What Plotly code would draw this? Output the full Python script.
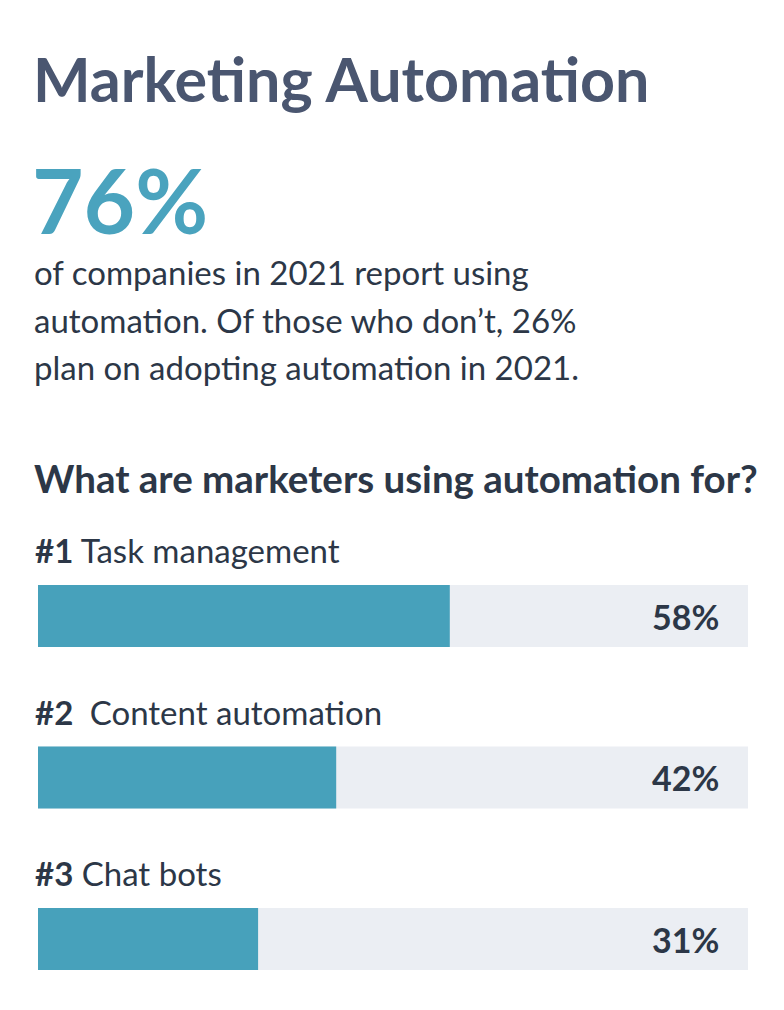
import plotly.graph_objects as go

# ---- data ----
ranks = ["#1", "#2\u00a0", "#3"]
categories = ["Task management", "Content automation", "Chat bots"]
values = [58, 42, 31]
track_total = [100, 100, 100]

title_text = "Marketing Automation"
headline_value = "76%"
paragraph_lines = [
    "of companies in 2021 report using",
    "automation. Of those who don\u2019t, 26%",
    "plan on adopting automation in 2021.",
]
subtitle_text = "What are marketers using automation for?"

# ---- styles ----
W, H = 784, 1010
OFF = 8  # page body offset
FONT = "Lato"
TITLE_C = "#4a5670"
TEAL = "#4aa3be"
BAR_C = "#47a1bb"
TRACK_C = "#ebeef3"
TEXT_C = "#2c3747"

def py(px):  # pixel-from-top (reference) -> paper y
    return 1 - (px - OFF) / H

def px_x(px):
    return (px - OFF) / W

fig = go.Figure()
fig.add_trace(go.Bar(
    y=categories, x=track_total, orientation="h",
    marker=dict(color=TRACK_C, line=dict(width=0)),
    width=0.384, hoverinfo="skip", showlegend=False,
))
fig.add_trace(go.Bar(
    y=categories, x=values, orientation="h",
    marker=dict(color=BAR_C, line=dict(width=0)),
    width=0.384, hoverinfo="skip", showlegend=False,
))

annotations = []
annotations.append(dict(
    text=f"<b>{title_text}</b>", x=px_x(31), y=py(78), xref="paper", yref="paper",
    xanchor="left", yanchor="middle", showarrow=False,
    font=dict(family=FONT, size=61, color=TITLE_C),
))
annotations.append(dict(
    text=f"<b>{headline_value}</b>", x=px_x(30), y=py(200), xref="paper", yref="paper",
    xanchor="left", yanchor="middle", showarrow=False,
    font=dict(family=FONT, size=89, color=TEAL),
))
for i, line in enumerate(paragraph_lines):
    annotations.append(dict(
        text=line, x=px_x(32), y=py(272 + i * 47.5), xref="paper", yref="paper",
        xanchor="left", yanchor="middle", showarrow=False,
        font=dict(family=FONT, size=33, color=TEXT_C),
    ))
annotations.append(dict(
    text=f"<b>{subtitle_text}</b>", x=px_x(32), y=py(478), xref="paper", yref="paper",
    xanchor="left", yanchor="middle", showarrow=False,
    font=dict(family=FONT, size=38.5, color=TEXT_C),
))
for r, c, v in zip(ranks, categories, values):
    annotations.append(dict(
        text=f"<b>{r}</b> {c}", x=0, y=c, xref="x", yref="y",
        xanchor="left", yanchor="middle", yshift=66, xshift=-5, showarrow=False,
        font=dict(family=FONT, size=33, color=TEXT_C),
    ))
    annotations.append(dict(
        text=f"<b>{v}%</b>", x=100, y=c, xref="x", yref="y",
        xanchor="right", yanchor="middle", xshift=-27, showarrow=False,
        font=dict(family=FONT, size=34, color=TEXT_C),
    ))

fig.update_layout(
    width=W, height=H,
    margin=dict(l=0, r=0, t=0, b=0),
    paper_bgcolor="white", plot_bgcolor="white",
    barmode="overlay",
    xaxis=dict(range=[0, 100], domain=[px_x(38), px_x(748)], visible=False, fixedrange=True),
    yaxis=dict(range=[2.4, -0.5], domain=[py(1003.6), py(535.25)], visible=False,
               categoryorder="array", categoryarray=categories, fixedrange=True),
    annotations=annotations,
    showlegend=False,
)

fig.write_html("out.html")
